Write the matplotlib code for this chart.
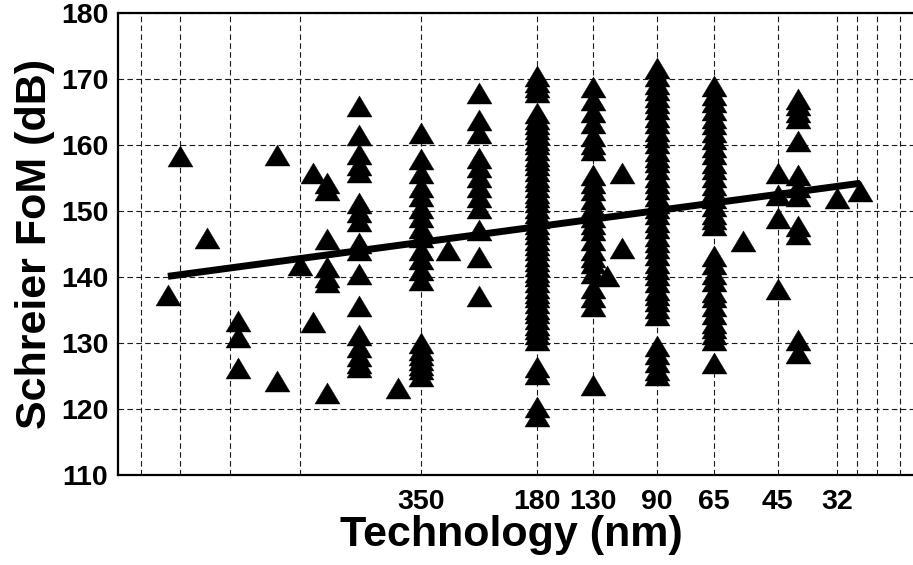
import matplotlib
matplotlib.use('Agg')
import matplotlib.pyplot as plt
from matplotlib.path import Path
from matplotlib.ticker import FixedLocator, NullFormatter
import numpy as np

plt.rcParams['font.family'] = ['Liberation Sans', 'DejaVu Sans']
plt.rcParams['font.weight'] = 'bold'

# Schreier FoM of published designs, grouped by technology node (nm)
fom_1500 = [137.2]
fom_1400 = [158.3]
fom_1200 = [145.9]
fom_1000 = [133.3, 130.9, 126.2]
fom_800 = [158.5, 124.2]
fom_700 = [141.8]
fom_650 = [155.8, 133.2]
fom_600 = [154.2, 153.2, 145.8, 141.5, 140.0, 139.2, 122.5]
fom_500 = [165.9, 161.5, 158.6, 157.0, 155.9, 151.2, 149.8, 148.5, 145.1,
           144.1, 140.5, 135.6, 131.2, 129.4, 128.1, 127.0, 126.4]
fom_400 = [123.2]
fom_350 = [161.8, 157.9, 155.7, 153.7, 152.2, 150.4, 149.1, 147.4, 146.1,
           144.1, 142.8, 141.1, 139.5, 130.0, 129.0, 128.2, 127.4, 126.7,
           126.0, 125.0]
fom_300 = [144.1]
fom_250 = [167.9, 163.8, 161.8, 158.1, 156.7, 155.2, 153.7, 152.1, 150.4,
           147.1, 143.0, 137.1]
fom_180 = [170.4, 169.6, 168.8, 168.0, 164.9, 164.0, 163.2, 162.5, 161.6,
           160.8, 160.1, 159.3, 158.4, 157.7, 156.9, 156.0, 155.2, 154.5,
           153.6, 152.8, 152.1, 151.3, 150.4, 149.7, 148.9, 148.0, 147.3,
           146.5, 145.6, 144.9, 144.1, 143.2, 142.5, 141.7, 140.8, 140.1,
           139.3, 138.4, 137.6, 136.9, 136.0, 135.2, 134.5, 133.6, 132.8,
           132.1, 131.3, 130.4, 126.3, 125.3, 120.3, 119.0]
fom_130 = [168.8, 166.8, 165.0, 163.3, 161.4, 160.2, 159.3, 155.5, 154.2,
           153.2, 151.8, 150.6, 149.1, 148.0, 147.1, 145.6, 144.1, 143.0,
           142.1, 140.6, 138.4, 137.0, 135.6, 123.6]
fom_120 = [140.1]
fom_110 = [155.8, 144.4]
fom_90 = [171.6, 170.5, 169.3, 168.4, 167.2, 166.3, 165.4, 164.2, 163.3,
          162.1, 161.2, 160.3, 159.1, 158.2, 157.4, 156.3, 155.1, 154.2,
          153.4, 152.3, 151.2, 150.4, 149.5, 148.3, 147.4, 146.2, 145.3,
          144.4, 143.3, 142.1, 141.2, 140.3, 139.2, 138.1, 137.2, 136.4,
          135.3, 134.2, 129.6, 128.4, 127.1, 125.9, 125.2]
fom_65 = [169.0, 167.6, 166.5, 165.3, 164.1, 163.2, 162.0, 160.9, 159.7,
          158.6, 157.3, 156.4, 155.2, 154.0, 153.1, 152.0, 150.8, 149.6,
          148.8, 147.9, 143.2, 142.0, 140.5, 139.4, 137.8, 136.9, 135.6,
          134.4, 133.1, 132.2, 131.4, 130.5, 127.0]
fom_55 = [145.5]
fom_45 = [155.8, 152.4, 149.0, 138.2]
fom_40 = [167.0, 166.0, 165.0, 164.1, 160.6, 155.4, 153.6, 152.2, 147.7,
          146.5, 130.5, 128.5]
fom_32 = [152.0]
fom_28 = [153.0]

groups = [(1500, fom_1500), (1400, fom_1400), (1200, fom_1200),
          (1000, fom_1000), (800, fom_800), (700, fom_700), (650, fom_650),
          (600, fom_600), (500, fom_500), (400, fom_400), (350, fom_350),
          (300, fom_300), (250, fom_250), (180, fom_180), (130, fom_130),
          (120, fom_120), (110, fom_110), (90, fom_90), (65, fom_65),
          (55, fom_55), (45, fom_45), (40, fom_40), (32, fom_32),
          (28, fom_28)]

# least-squares trend (straight in log(nm))
trend_nm = [1500, 28]
trend_fom = [140.1, 154.2]

tick_nm = [350, 180, 130, 90, 65, 45, 32]
minor_grid_nm = [1750, 1400, 1050, 700, 28.5, 25.4, 22.3]

nm = np.concatenate([[n] * len(f) for n, f in groups])
fom = np.concatenate([f for n, f in groups])

# flattened triangle (wider than tall)
tri = Path([(0, 0.84), (-1, -0.84), (1, -0.84), (0, 0.84)],
           [Path.MOVETO, Path.LINETO, Path.LINETO, Path.CLOSEPOLY])

fig = plt.figure(figsize=(9.13, 5.65), dpi=100)
ax = fig.add_axes([117.9 / 913, 90 / 565, 800.8 / 913, 462 / 565])

ax.scatter(nm, fom, marker=tri, s=18 ** 2, c='black', edgecolors='black',
           linewidths=0.3, zorder=3)
ax.plot(trend_nm, trend_fom, color='black', lw=5.0, solid_capstyle='butt',
        zorder=4)

ax.set_xscale('log')
ax.set_xlim(2000, 20)
ax.set_ylim(110, 180)
ax.xaxis.set_major_locator(FixedLocator(tick_nm))
ax.xaxis.set_minor_locator(FixedLocator(minor_grid_nm))
ax.xaxis.set_minor_formatter(NullFormatter())
ax.set_xticklabels([str(t) for t in tick_nm])
ax.set_yticks(np.arange(110, 181, 10))

dash = (0, (5, 3))
ax.grid(True, which='major', axis='both', color='0.1', lw=0.8, linestyle=dash)
ax.grid(True, which='minor', axis='x', color='0.1', lw=0.8, linestyle=dash)
ax.set_axisbelow(True)

ax.tick_params(which='both', length=0, labelsize=20.5, pad=7)
ax.tick_params(axis='x', pad=10)
for lab in ax.get_xticklabels() + ax.get_yticklabels():
    lab.set_fontweight('bold')

for side in ['left', 'bottom', 'top', 'right']:
    ax.spines[side].set_linewidth(1.6)

ax.set_xlabel('Technology (nm)', fontsize=31, fontweight='bold', labelpad=0)
ax.xaxis.label.set_x(0.4915)
ax.set_ylabel('Schreier FoM (dB)', fontsize=31, fontweight='bold', labelpad=4)

fig.savefig('out.png', dpi=100)
